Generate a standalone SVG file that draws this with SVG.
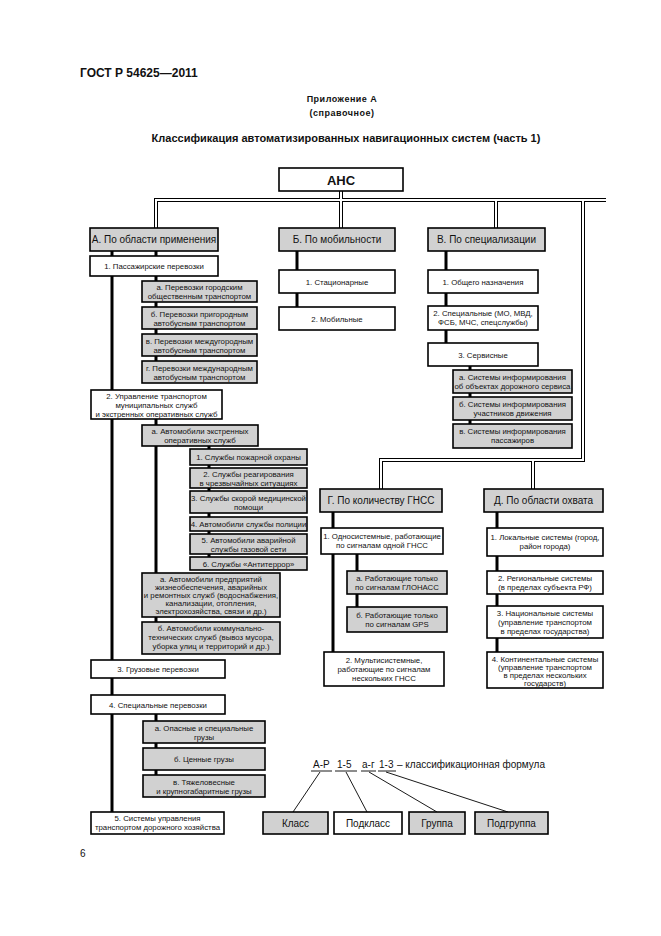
<svg xmlns="http://www.w3.org/2000/svg" width="661" height="936" viewBox="0 0 661 936">
<style>
text{font-family:"Liberation Sans",Arial,sans-serif;fill:#111}
.g{fill:#d1d1d1;stroke:#000;stroke-width:1.6}
.w{fill:#fff;stroke:#000;stroke-width:1.6}
.t{font-size:7.8px;text-anchor:middle}
.h{font-size:10px;text-anchor:middle}
.c{stroke:#000;stroke-width:3;fill:none}
.dbo{stroke:#000;stroke-width:4;fill:none}
.dbi{stroke:#fff;stroke-width:2;fill:none}
.f{stroke:#000;stroke-width:0.9;fill:none}
.fm{font-size:10px}
</style>
<g id="header">
<text x="80" y="77" font-size="12" font-weight="bold">ГОСТ Р 54625—2011</text>
<text x="342" y="102" font-size="9" font-weight="bold" text-anchor="middle" letter-spacing="0.5">Приложение А</text>
<text x="342" y="116" font-size="9" font-weight="bold" text-anchor="middle" letter-spacing="0.5">(справочное)</text>
<text x="346" y="142" font-size="11" font-weight="bold" text-anchor="middle">Классификация автоматизированных навигационных систем (часть 1)</text>
<text x="80" y="857" font-size="10">6</text>
</g>
<g id="connectors">
<path class="dbo" d="M341,191V200M156,228V200H606M341,200V228M496,200V228M583,200V460H381V489M533,460V489"/>
<path class="dbi" d="M341,190V200M156,229V200H607M341,200V229M496,200V229M583,200V460H381V490M533,460V490"/>
<path class="c" d="M112,251V812M156,251V256M156,276V361M156,419V622M209,446V557M156,714V775M297,251V307M446,251V343M470,366V424M333,512V652M357,554V607M497,512V652"/>
<path class="f" d="M311,771H332M335,771H357M361,771H376M378,771H396M320,772L293,812M346,772L367,812M369,772L437,812M386,772L508,812"/>
</g>
<g id="ans"><rect class="w" x="279" y="168" width="124" height="23"/><text x="341" y="184.5" font-size="13" font-weight="bold" text-anchor="middle">АНС</text></g>
<g id="A"><rect class="g" x="90" y="228" width="128" height="23"/><text class="h" x="154" y="243">А. По области применения</text></g>
<g id="B"><rect class="g" x="279" y="228" width="116" height="23"/><text class="h" x="337" y="243">Б. По мобильности</text></g>
<g id="V"><rect class="g" x="428" y="228" width="117" height="23"/><text class="h" x="486.5" y="243">В. По специализации</text></g>

<g id="A1"><rect class="w" x="90" y="256" width="128" height="20"/><text class="t" x="154" y="269">1. Пассажирские перевозки</text></g>
<g id="A1a"><rect class="g" x="142" y="281" width="115" height="21"/><text class="t" x="199.5" y="290">а. Перевозки городским</text><text class="t" x="199.5" y="299">общественным транспортом</text></g>
<g id="A1b"><rect class="g" x="142" y="307" width="115" height="22"/><text class="t" x="199.5" y="316.5">б. Перевозки пригородным</text><text class="t" x="199.5" y="325.5">автобусным транспортом</text></g>
<g id="A1v"><rect class="g" x="142" y="334" width="115" height="22"/><text class="t" x="199.5" y="343.5">в. Перевозки междугородным</text><text class="t" x="199.5" y="352.5">автобусным транспортом</text></g>
<g id="A1g"><rect class="g" x="142" y="361" width="115" height="22"/><text class="t" x="199.5" y="370.5">г. Перевозки международным</text><text class="t" x="199.5" y="379.5">автобусным транспортом</text></g>

<g id="A2"><rect class="w" x="91" y="390" width="131" height="29"/><text class="t" x="156.5" y="399">2. Управление транспортом</text><text class="t" x="156.5" y="408">муниципальных служб</text><text class="t" x="156.5" y="417">и экстренных оперативных служб</text></g>
<g id="A2a"><rect class="g" x="142" y="425" width="116" height="21"/><text class="t" x="200" y="434">а. Автомобили экстренных</text><text class="t" x="200" y="443">оперативных служб</text></g>
<g id="S1"><rect class="g" x="190" y="449" width="117" height="16"/><text class="t" x="248.5" y="460">1. Службы пожарной охраны</text></g>
<g id="S2"><rect class="g" x="190" y="468" width="117" height="20"/><text class="t" x="248.5" y="476.5">2. Службы реагирования</text><text class="t" x="248.5" y="485.5">в чрезвычайных ситуациях</text></g>
<g id="S3"><rect class="g" x="190" y="491" width="117" height="22"/><text class="t" x="248.5" y="500.5">3. Службы скорой медицинской</text><text class="t" x="248.5" y="509.5">помощи</text></g>
<g id="S4"><rect class="g" x="190" y="517" width="117" height="14"/><text class="t" x="248.5" y="527">4. Автомобили службы полиции</text></g>
<g id="S5"><rect class="g" x="190" y="534" width="117" height="20"/><text class="t" x="248.5" y="542.5">5. Автомобили аварийной</text><text class="t" x="248.5" y="551.5">службы газовой сети</text></g>
<g id="S6"><rect class="g" x="190" y="557" width="117" height="13"/><text class="t" x="248.5" y="566.5">6. Службы «Антитеррор»</text></g>
<g id="A2b"><rect class="g" x="142" y="573" width="138" height="44"/><text class="t" x="211" y="581.5">а. Автомобили предприятий</text><text class="t" x="211" y="589.5">жизнеобеспечения, аварийных</text><text class="t" x="211" y="597.5">и ремонтных служб (водоснабжения,</text><text class="t" x="211" y="605.5">канализации, отопления,</text><text class="t" x="211" y="613.5">электрохозяйства, связи и др.)</text></g>
<g id="A2c"><rect class="g" x="142" y="622" width="138" height="32"/><text class="t" x="211" y="631">б. Автомобили коммунально-</text><text class="t" x="211" y="640">технических служб (вывоз мусора,</text><text class="t" x="211" y="649">уборка улиц и территорий и др.)</text></g>
<g id="A3"><rect class="w" x="91" y="660" width="134" height="18"/><text class="t" x="158" y="672">3. Грузовые перевозки</text></g>
<g id="A4"><rect class="w" x="91" y="695" width="134" height="19"/><text class="t" x="158" y="707.5">4. Специальные перевозки</text></g>
<g id="A4a"><rect class="g" x="143" y="721" width="122" height="22"/><text class="t" x="204" y="730.5">а. Опасные и специальные</text><text class="t" x="204" y="739.5">грузы</text></g>
<g id="A4b"><rect class="g" x="143" y="748" width="122" height="22"/><text class="t" x="204" y="761.5">б. Ценные грузы</text></g>
<g id="A4v"><rect class="g" x="143" y="775" width="122" height="22"/><text class="t" x="204" y="784.5">в. Тяжеловесные</text><text class="t" x="204" y="793.5">и крупногабаритные грузы</text></g>
<g id="A5"><rect class="w" x="91" y="812" width="133" height="22"/><text class="t" x="157.5" y="821">5. Системы управления</text><text class="t" x="157.5" y="830">транспортом дорожного хозяйства</text></g>

<g id="B1"><rect class="w" x="279" y="270" width="116" height="23"/><text class="t" x="337" y="284.5">1. Стационарные</text></g>
<g id="B2"><rect class="w" x="279" y="307" width="116" height="23"/><text class="t" x="337" y="321.5">2. Мобильные</text></g>

<g id="V1"><rect class="w" x="428" y="270" width="110" height="23"/><text class="t" x="483" y="284.5">1. Общего назначения</text></g>
<g id="V2"><rect class="w" x="428" y="306" width="110" height="24"/><text class="t" x="483" y="316">2. Специальные (МО, МВД,</text><text class="t" x="483" y="325">ФСБ, МЧС, спецслужбы)</text></g>
<g id="V3"><rect class="w" x="428" y="343" width="110" height="23"/><text class="t" x="483" y="357.5">3. Сервисные</text></g>
<g id="V3a"><rect class="g" x="453" y="370" width="119" height="23"/><text class="t" x="512.5" y="380">а. Системы информирования</text><text class="t" x="512.5" y="389">об объектах дорожного сервиса</text></g>
<g id="V3b"><rect class="g" x="453" y="397" width="119" height="23"/><text class="t" x="512.5" y="407">б. Системы информирования</text><text class="t" x="512.5" y="416">участников движения</text></g>
<g id="V3v"><rect class="g" x="453" y="424" width="119" height="24"/><text class="t" x="512.5" y="434">в. Системы информирования</text><text class="t" x="512.5" y="443">пассажиров</text></g>

<g id="G"><rect class="g" x="320" y="489" width="122" height="23"/><text class="h" x="381" y="504">Г. По количеству ГНСС</text></g>
<g id="G1"><rect class="w" x="321" y="528" width="122" height="26"/><text class="t" x="382" y="539">1. Односистемные, работающие</text><text class="t" x="382" y="548">по сигналам одной ГНСС</text></g>
<g id="G1a"><rect class="g" x="347" y="571" width="100" height="23"/><text class="t" x="397" y="581">а. Работающие только</text><text class="t" x="397" y="590">по сигналам ГЛОНАСС</text></g>
<g id="G1b"><rect class="g" x="347" y="607" width="100" height="25"/><text class="t" x="397" y="618">б. Работающие только</text><text class="t" x="397" y="627">по сигналам GPS</text></g>
<g id="G2"><rect class="w" x="324" y="652" width="120" height="34"/><text class="t" x="384" y="663">2. Мультисистемные,</text><text class="t" x="384" y="672">работающие по сигналам</text><text class="t" x="384" y="681">нескольких ГНСС</text></g>

<g id="D"><rect class="g" x="484" y="489" width="119" height="23"/><text class="h" x="543.5" y="504">Д. По области охвата</text></g>
<g id="D1"><rect class="w" x="487" y="528" width="116" height="28"/><text class="t" x="545" y="540">1. Локальные системы (город,</text><text class="t" x="545" y="549">район города)</text></g>
<g id="D2"><rect class="w" x="487" y="571" width="116" height="23"/><text class="t" x="545" y="581">2. Региональные системы</text><text class="t" x="545" y="590">(в пределах субъекта РФ)</text></g>
<g id="D3"><rect class="w" x="487" y="606" width="116" height="32"/><text class="t" x="545" y="616">3. Национальные системы</text><text class="t" x="545" y="625">(управление транспортом</text><text class="t" x="545" y="634">в пределах государства)</text></g>
<g id="D4"><rect class="w" x="487" y="652" width="116" height="36"/><text class="t" x="545" y="661.5">4. Континентальные системы</text><text class="t" x="545" y="669.5">(управление транспортом</text><text class="t" x="545" y="677.5">в пределах нескольких</text><text class="t" x="545" y="685.5">государств)</text></g>

<g id="formula">
<text class="fm" x="313" y="768">А-Р</text>
<text class="fm" x="337" y="768">1-5</text>
<text class="fm" x="362" y="768">а-г</text>
<text class="fm" x="379" y="768">1-3</text>
<text class="fm" x="397" y="768">– классификационная формула</text>
</g>
<g id="K"><rect class="g" x="263" y="812" width="65" height="22"/><text class="h" x="295.5" y="826.5" font-size="9">Класс</text></g>
<g id="PK"><rect class="w" x="334" y="812" width="68" height="22"/><text class="h" x="368" y="826.5">Подкласс</text></g>
<g id="GR"><rect class="g" x="409" y="812" width="56" height="22"/><text class="h" x="437" y="826.5">Группа</text></g>
<g id="PG"><rect class="g" x="475" y="812" width="73" height="22"/><text class="h" x="511.5" y="826.5">Подгруппа</text></g>
</svg>
